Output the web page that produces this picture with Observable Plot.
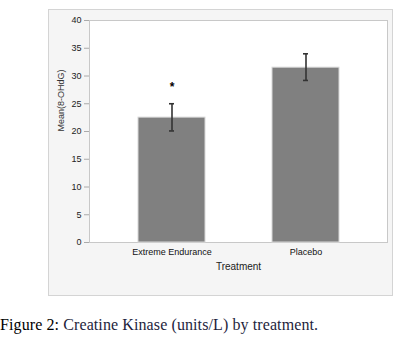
<!DOCTYPE html>
<html>
<head>
<meta charset="utf-8">
<script src="https://cdn.jsdelivr.net/npm/d3@7"></script>
<script src="https://cdn.jsdelivr.net/npm/@observablehq/plot@0.6"></script>
<style>
  body { margin: 0; background: #fff; }
  #wrap { position: relative; width: 409px; height: 347px; }
  #panel { position: absolute; left: 48px; top: 9px; width: 345px; height: 287px; background: #f5f5f5; border: 1px solid #d4d4d4; box-sizing: border-box; }
  #chart { position: absolute; left: 0; top: 0; }
  #caption { position: absolute; left: 0; top: 316px; font-family: "Liberation Serif", serif; font-size: 16px; color: #1e1e3c; white-space: nowrap; letter-spacing: 0.1px; }
  #caption b { font-weight: normal; color: #000; }
</style>
</head>
<body>
<div id="wrap">
  <div id="panel"></div>
  <div id="chart"></div>
  <div id="caption"><b>Figure 2:</b> Creatine Kinase (units/L) by treatment.</div>
</div>
<script>
const treatments = ["Extreme Endurance", "Placebo"];
const means = [22.5, 31.5];
const errLow = [20.1, 29.2];
const errHigh = [25.0, 34.0];
const markers = ["*", ""];
const yTicks = [0, 5, 10, 15, 20, 25, 30, 35, 40];

const data = treatments.map((t, i) => ({t, m: means[i], lo: errLow[i], hi: errHigh[i], mk: markers[i]}));

const chart = Plot.plot({
  width: 409,
  height: 300,
  marginLeft: 89,
  marginRight: 22,
  marginTop: 20,
  marginBottom: 58,
  style: { background: "transparent", fontFamily: "'Liberation Sans', Arial, sans-serif" },
  x: { domain: treatments, paddingInner: 0.5, paddingOuter: 0.354, label: null },
  y: { domain: [0, 40], ticks: yTicks, label: null },
  marks: [
    Plot.frame({ fill: "white", stroke: "#c8c8c8" }),
    Plot.barY(data, { x: "t", y: "m", fill: "#808080", stroke: "#d8d8d8", strokeWidth: 1 }),
    Plot.ruleX(data, { x: "t", y1: "lo", y2: "hi", stroke: "#333", strokeWidth: 1.6 }),
    Plot.tickY(data, { x: "t", y: "lo", stroke: "#333", strokeWidth: 1.6, inset: 31 }),
    Plot.tickY(data, { x: "t", y: "hi", stroke: "#333", strokeWidth: 1.6, inset: 31 }),
    Plot.text(data, { x: "t", y: (d) => d.hi, text: "mk", dy: -17, fontSize: 12, fontWeight: "bold", fill: "#000" }),
    Plot.axisY({ ticks: yTicks, tickSize: 5, tickPadding: 3, fontSize: 9, stroke: "#aaa", color: "#222", label: null }),
    Plot.axisX({ tickSize: 0, tickPadding: 6, fontSize: 9, color: "#111", label: null }),
    Plot.text(["Mean(8-OHdG)"], { frameAnchor: "left", dx: -28, rotate: -90, fontSize: 9, fill: "#333", text: d => d }),
    Plot.text(["Treatment"], { frameAnchor: "bottom", dy: 27, fontSize: 10, fill: "#222", text: d => d })
  ]
});
document.getElementById("chart").appendChild(chart);
</script>
</body>
</html>
